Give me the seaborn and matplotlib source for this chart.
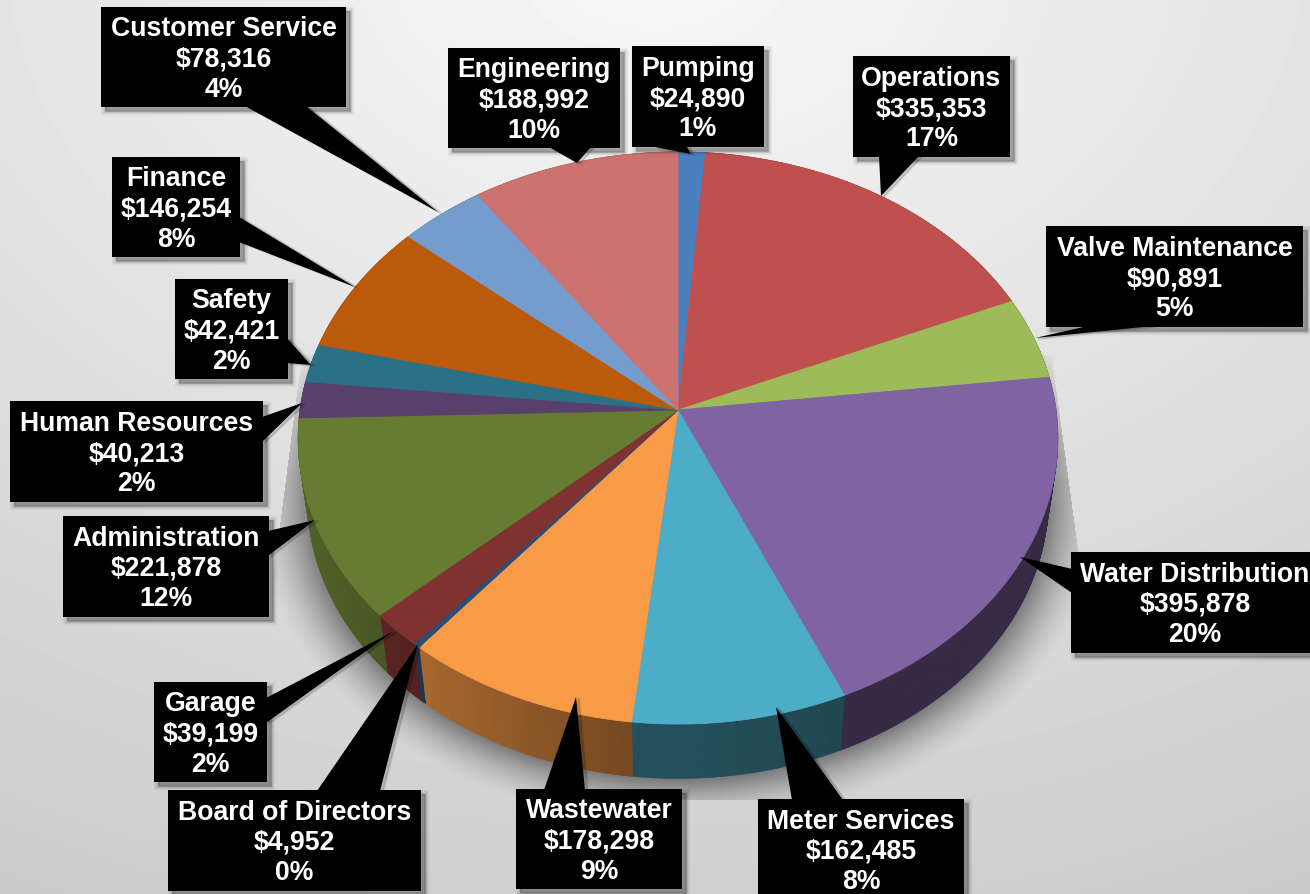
import numpy as np
import matplotlib
matplotlib.use("Agg")
import matplotlib.pyplot as plt
import seaborn as sns

# Budget by department, clockwise from twelve o'clock
departments = ["Pumping", "Operations", "Valve Maintenance", "Water Distribution",
               "Meter Services", "Wastewater", "Board of Directors", "Garage",
               "Administration", "Human Resources", "Safety", "Finance",
               "Customer Service", "Engineering"]
amounts = [24890, 335353, 90891, 395878, 162485, 178298, 4952, 39199,
           221878, 40213, 42421, 146254, 78316, 188992]
percents = [1, 17, 5, 20, 8, 9, 0, 2, 12, 2, 2, 8, 4, 10]
slice_colors = ["#4a80bd", "#c0504d", "#9dbb59", "#8063a2", "#4dacc7", "#f99a46", "#2c4d75",
                "#7f3230", "#667c33", "#59406c", "#2b7085", "#bb5a0a", "#749dce", "#cc7270"]

# Callout layout in pixels: box (left, right, top, bottom), leader base and tip
box_edges = [(632, 764, 47, 148), (853, 1010, 57, 158), (1046, 1303, 227, 328),
             (1071, 1319, 553, 654), (758, 964, 800, 901), (516, 682, 790, 890),
             (168, 421, 791, 892), (154, 267, 683, 783), (63, 269, 517, 618),
             (10, 263, 402, 503), (175, 288, 280, 380), (112, 240, 158, 258),
             (101, 346, 8, 108), (448, 620, 49, 149)]
leader_shapes = [((655, 148), (687, 148), (691, 155)), ((879, 157), (919, 157), (881, 197)),
                 ((1088, 327), (1153, 327), (1035, 339)), ((1072, 570), (1072, 594), (1020, 558)),
                 ((792, 801), (843, 801), (776, 708)), ((544, 791), (585, 791), (576, 698)),
                 ((317, 792), (380, 792), (418, 645)), ((266, 699), (266, 724), (394, 632)),
                 ((268, 532), (268, 557), (315, 521)), ((262, 418), (262, 443), (302, 404)),
                 ((287, 339), (287, 364), (311, 366)), ((239, 218), (239, 243), (355, 288)),
                 ((245, 107), (306, 107), (438, 213)), ((549, 148), (591, 148), (577, 164))]

WIDTH, HEIGHT = 1310, 895
APEX = (678.0, 411.0)
RADIUS_X, RADIUS_Y, TILT = 378.0, 283.3, 0.098
DEPTH_SHIFT, DEPTH_SCALE = 61.5, 0.975
RIM_CENTER_Y = 439.0

sns.set_theme(style="white")
plt.rcParams["font.family"] = ["Liberation Sans", "DejaVu Sans"]
palette = sns.color_palette(slice_colors)


def rim_point(theta):
    """Top-face point for a clockwise angle from north, with foreshortening."""
    u, v = np.sin(theta), np.cos(theta)
    w = 1 + TILT * v
    return APEX[0] + RADIUS_X * u / w, APEX[1] - RADIUS_Y * v / w


def base_point(theta):
    """Matching point on the lower edge of the side wall."""
    x, y = rim_point(theta)
    return (APEX[0] + (x - APEX[0]) * DEPTH_SCALE,
            RIM_CENTER_Y + DEPTH_SHIFT + (y - RIM_CENTER_Y) * DEPTH_SCALE)


def wall_shade(x):
    return np.interp(x, [300, 430, 630, 840, 1060], [0.78, 0.66, 0.47, 0.42, 0.42])


fig = plt.figure(figsize=(WIDTH / 100, HEIGHT / 100), dpi=100)
ax = fig.add_axes([0, 0, 1, 1])
ax.axis("off")

# Backdrop: pale radial wash
yy, xx = np.mgrid[0:HEIGHT, 0:WIDTH]
radial = np.hypot((xx - 655) * 0.72, yy + 50)
wash = np.clip(0.975 - 0.155 * radial / 900, 0, 1)
ax.imshow(wash, cmap="gray", vmin=0, vmax=1, extent=(0, WIDTH, HEIGHT, 0), aspect="auto", zorder=0)

# Soft shadow thrown by the disc, limited to a trapezoid around it
ring = np.hypot((xx - APEX[0]) / (380 * DEPTH_SCALE),
                (yy - (RIM_CENTER_Y + DEPTH_SHIFT)) / (287 * DEPTH_SCALE))
fade = np.clip(1 - (ring - 1) * 300 / 48, 0, 1) ** 1.6
right_limit = 1051 + (yy - 355) * (27 / 198)
left_limit = 297 - (yy - 390) * (18 / 140)
mask = (yy > 355) & (yy < 801) & (xx < right_limit) & (xx > left_limit)
shadow = np.zeros((HEIGHT, WIDTH, 4))
shadow[..., 3] = 0.42 * fade * mask
ax.imshow(shadow, extent=(0, WIDTH, HEIGHT, 0), aspect="auto", zorder=1)
ax.set_xlim(0, WIDTH)
ax.set_ylim(HEIGHT, 0)

# Slice boundaries from the amounts
edges = np.concatenate([[0.0], np.cumsum(amounts)]) / np.sum(amounts) * 2 * np.pi

# Side wall, shaded strip by strip
for start, stop, color in zip(edges[:-1], edges[1:], palette):
    steps = np.linspace(start, stop, max(3, int((stop - start) * 90)))
    for a, b in zip(steps[:-1], steps[1:]):
        strip = [rim_point(a), rim_point(b), base_point(b), base_point(a)]
        shade = wall_shade(rim_point((a + b) / 2)[0])
        tone = tuple(c * shade for c in color)
        ax.fill(*zip(*strip), color=tone, lw=0.5, zorder=2)

# Top face
for start, stop, color in zip(edges[:-1], edges[1:], palette):
    thetas = np.linspace(start, stop, max(4, int((stop - start) * 120)))
    px, py = rim_point(thetas)
    ax.fill(np.r_[APEX[0], px], np.r_[APEX[1], py], color=color, lw=0.6, zorder=3)

# Callouts: soft box shadow, lighter shadow on the leader, then the black shapes
for name, amount, pct, box, leader in zip(departments, amounts, percents, box_edges, leader_shapes):
    left, right, top, bottom = box
    rect_x = np.array([left, right, right, left])
    rect_y = np.array([top, top, bottom, bottom])
    lx, ly = map(np.array, zip(*leader))
    for lw, alpha in [(6, 0.04), (4, 0.06), (2, 0.08), (0.5, 0.12)]:
        ax.fill(rect_x + 4, rect_y + 4, facecolor="black", edgecolor="black", lw=lw, alpha=alpha, zorder=4)
    for lw, alpha in [(2, 0.05), (0.5, 0.1)]:
        ax.fill(lx + 3, ly + 1, facecolor="black", edgecolor="black", lw=lw, alpha=alpha, zorder=4)
    ax.fill(rect_x, rect_y, color="black", lw=0, zorder=5)
    ax.fill(lx, ly, color="black", lw=0, zorder=5)
    ax.text((left + right) / 2, (top + bottom) / 2 + 1.5, f"{name}\n${amount:,}\n{pct}%",
            color="white", fontsize=19.2, fontweight="bold", ha="center", va="center",
            linespacing=1.22, zorder=6)

sns.despine(ax=ax, left=True, bottom=True)
fig.savefig("out.png", dpi=100)
